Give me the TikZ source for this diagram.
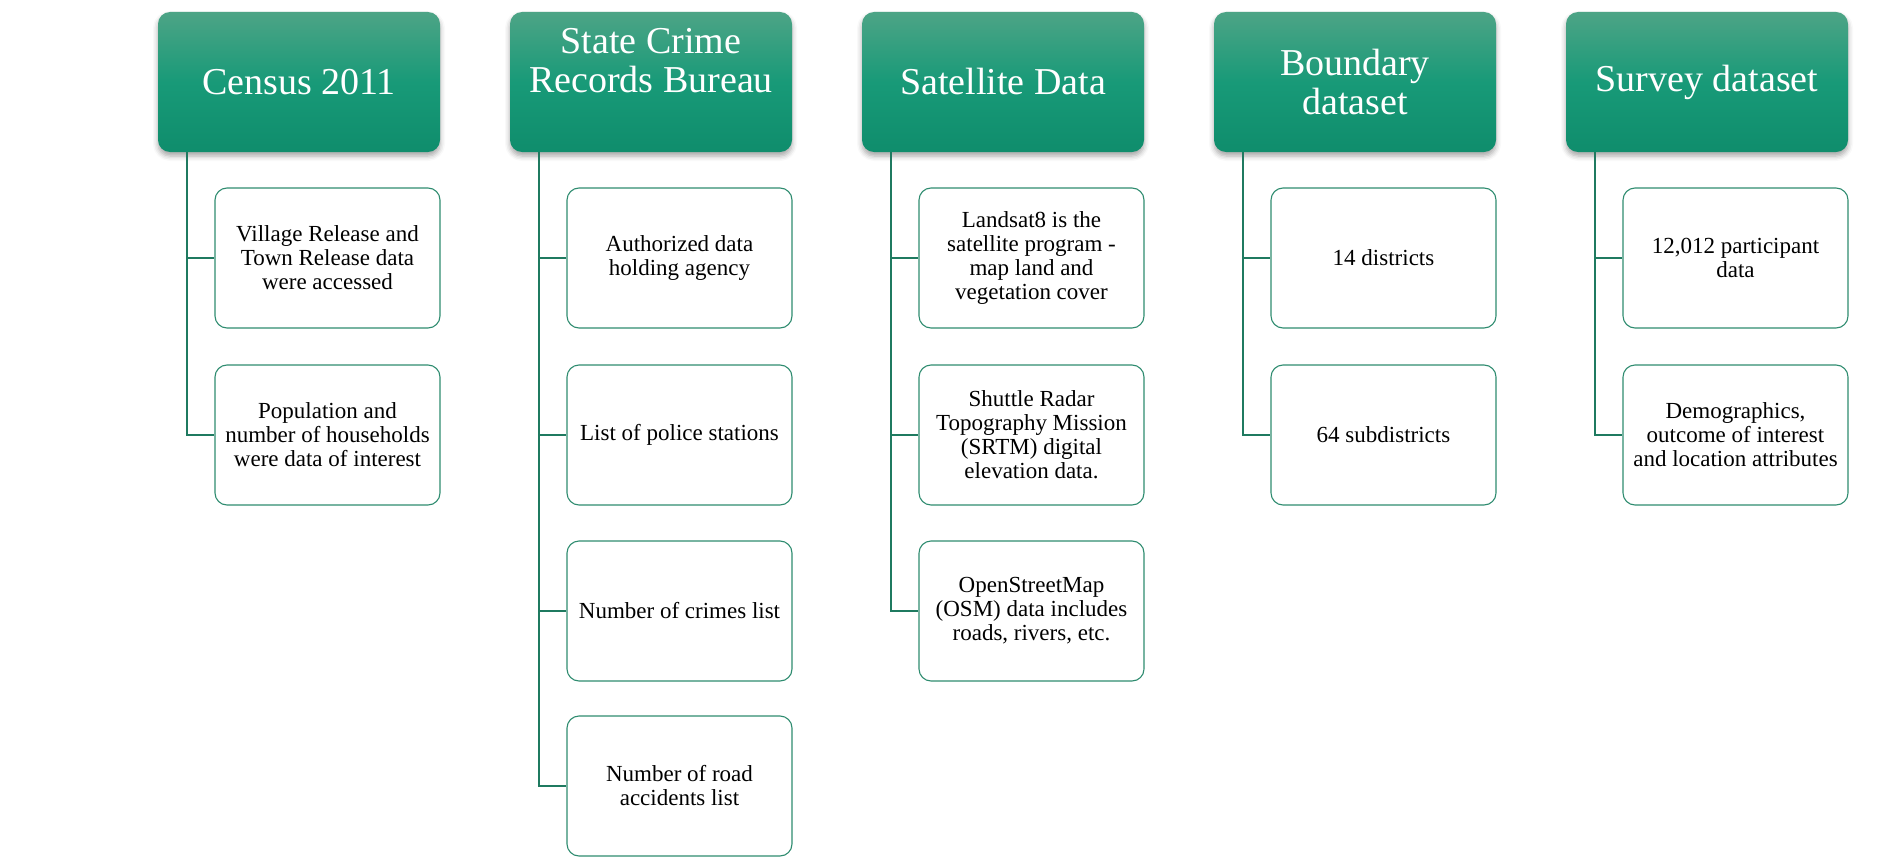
\documentclass[tikz,border=0pt]{standalone}
\usepackage{fontspec}
\setmainfont{Liberation Serif}
\usetikzlibrary{shadows.blur}

\definecolor{hdrTop}{HTML}{4DA486}
\definecolor{hdrMid}{HTML}{189A78}
\definecolor{hdrBot}{HTML}{0F8D6C}
\definecolor{connGreen}{HTML}{1F7A60}
\definecolor{boxEdge}{HTML}{2F8C70}

\tikzset{
  header/.style={rectangle, rounded corners=12pt, minimum width=282pt,
    minimum height=140pt, inner sep=0pt, top color=hdrTop, bottom color=hdrBot,
    middle color=hdrMid, text=white, align=center,
    font=\fontsize{38}{39}\selectfont,
    blur shadow={shadow xshift=0pt, shadow yshift=-4pt,
      shadow blur radius=5pt, shadow opacity=35}},
  item/.style={rectangle, rounded corners=12pt, draw=boxEdge, line width=1.1pt,
    fill=white, minimum width=225pt, minimum height=140pt, inner sep=0pt,
    align=center, font=\fontsize{23}{24}\selectfont},
  conn/.style={draw=connGreen, line width=2.4pt}
}

\begin{document}
\begin{tikzpicture}[x=1pt, y=-1pt]
\useasboundingbox (0,0) rectangle (1888,859);

% ---- column headers ----
\node[header] (h1) at (299,82)  {Census 2011};
\node[header] (h2) at (651,82)  {\raisebox{17pt}[\height][\depth]{\begin{tabular}{@{}c@{}}State Crime\\Records Bureau\end{tabular}}};
\node[header] (h3) at (1003,82) {Satellite Data};
\node[header] (h4) at (1355,82) {Boundary\\dataset};
\node[header] (h5) at (1707,82) {Survey dataset};

% ---- trunk start points under each header ----
\coordinate (t1) at (187,152);
\coordinate (t2) at (539,152);
\coordinate (t3) at (891,152);
\coordinate (t4) at (1243,152);
\coordinate (t5) at (1595,152);

% ---- Census 2011 ----
\node[item] (c11) at (327.5,258) {Village Release and\\Town Release data\\were accessed};
\node[item] (c12) at (327.5,435) {Population and\\number of households\\were data of interest};

% ---- State Crime Records Bureau ----
\node[item] (c21) at (679.5,258) {Authorized data\\holding agency};
\node[item] (c22) at (679.5,435) {List of police stations};
\node[item] (c23) at (679.5,611) {Number of crimes list};
\node[item] (c24) at (679.5,786) {Number of road\\accidents list};

% ---- Satellite Data ----
\node[item] (c31) at (1031.5,258) {Landsat8 is the\\satellite program -\\map land and\\vegetation cover};
\node[item] (c32) at (1031.5,435) {Shuttle Radar\\Topography Mission\\(SRTM) digital\\elevation data.};
\node[item] (c33) at (1031.5,611) {OpenStreetMap\\(OSM) data includes\\roads, rivers, etc.};

% ---- Boundary dataset ----
\node[item] (c41) at (1383.5,258) {14 districts};
\node[item] (c42) at (1383.5,435) {64 subdistricts};

% ---- Survey dataset ----
\node[item] (c51) at (1735.5,258) {12,012 participant\\data};
\node[item] (c52) at (1735.5,435) {Demographics,\\outcome of interest\\and location attributes};

% ---- elbow connectors ----
\draw[conn] (t1) |- (c11.west);
\draw[conn] (t1) |- (c12.west);
\draw[conn] (t2) |- (c21.west);
\draw[conn] (t2) |- (c22.west);
\draw[conn] (t2) |- (c23.west);
\draw[conn] (t2) |- (c24.west);
\draw[conn] (t3) |- (c31.west);
\draw[conn] (t3) |- (c32.west);
\draw[conn] (t3) |- (c33.west);
\draw[conn] (t4) |- (c41.west);
\draw[conn] (t4) |- (c42.west);
\draw[conn] (t5) |- (c51.west);
\draw[conn] (t5) |- (c52.west);
\end{tikzpicture}
\end{document}
